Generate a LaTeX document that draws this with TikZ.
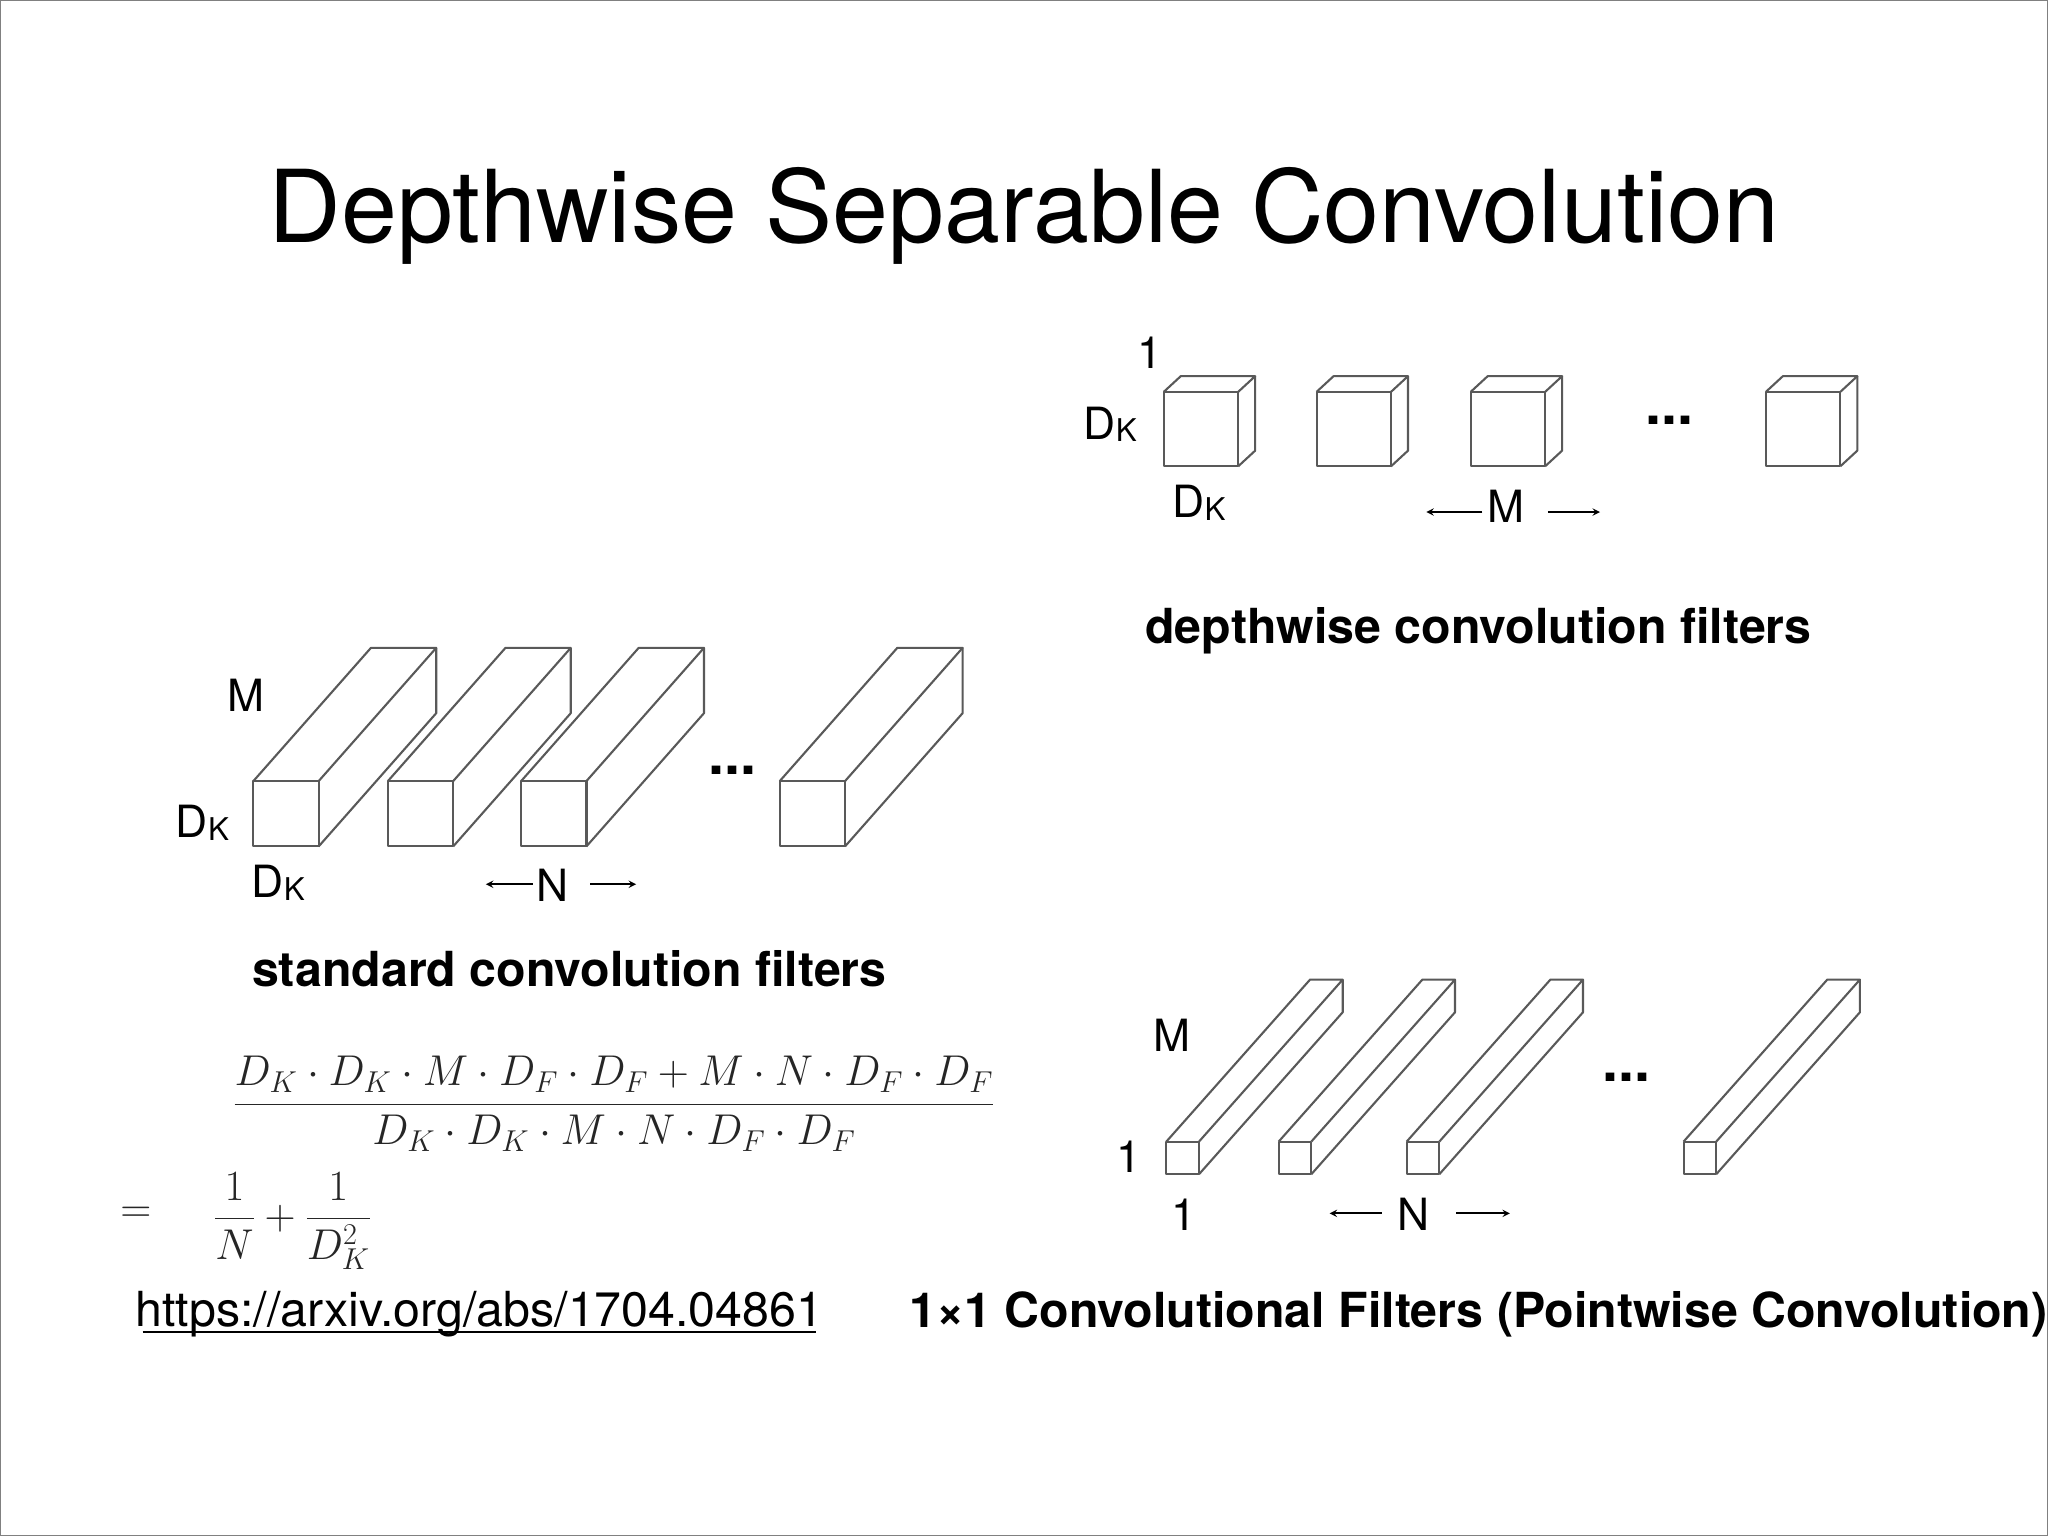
\RequirePackage{fix-cm}
\documentclass[tikz,border=0pt]{standalone}
\usepackage{fontspec}
\usepackage{amsmath}
\setsansfont{TeX Gyre Heros}
\newcommand\prism[5]{%
 \draw[boxln] (#1,-#2) rectangle ({#1+#3},{-#2-#3});
 \draw[boxln] (#1,-#2) -- ({#1+#4},{-#2+#5}) -- ({#1+#3+#4},{-#2+#5}) -- ({#1+#3},-#2);
 \draw[boxln] ({#1+#3+#4},{-#2+#5}) -- ({#1+#3+#4},{-#2-#3+#5}) -- ({#1+#3},{-#2-#3});}
\begin{document}
\begin{tikzpicture}[x=1pt,y=1pt,
 boxln/.style={draw=black!65,line width=1.6pt,line join=round},
 lbl/.style={font=\sffamily\fontsize{34}{36}\selectfont},
 captxt/.style={font=\sffamily\bfseries\fontsize{37}{40}\selectfont},
 arr/.style={-stealth,line width=1.5pt}]
\useasboundingbox (0,0) rectangle (1568,-1176);
\fill[white] (0,0) rectangle (1568,-1176);
\draw[black!50,line width=1pt] (0.5,-0.5) rectangle (1567.5,-1175.5);
\node[font=\sffamily\fontsize{77}{80}\selectfont] (title) at (784,-165) {Depthwise Separable Convolution};
% depthwise
\prism{891}{300}{57}{13}{12}
\prism{1008}{300}{57}{13}{12}
\prism{1126}{300}{57}{13}{12}
\prism{1352}{300}{57}{13}{12}
\node[lbl] (d1) at (880,-270) {1};
\node[lbl] (d2) at (850,-325) {D\raisebox{-2pt}{\fontsize{24}{24}\selectfont K}};
\node[lbl] (d3) at (918,-385) {D\raisebox{-2pt}{\fontsize{24}{24}\selectfont K}};
\node[font=\sffamily\bfseries\fontsize{44}{44}\selectfont] (d4) at (1278,-322) {...};
\node[lbl] (dM) at (1153,-388) {M};
\coordinate (a1) at (1135,-392); \coordinate (a2) at (1092,-392);
\coordinate (a3) at (1185,-392); \coordinate (a4) at (1225,-392);
\draw[arr] (a1) -- (a2); \draw[arr] (a3) -- (a4);
\node[captxt] (dcap) at (1132,-483) {depthwise convolution filters};
% standard
\prism{194}{598}{50}{90}{102}
\prism{297}{598}{50}{90}{102}
\prism{399}{598}{50}{90}{102}
\prism{597}{598}{50}{90}{102}
\node[lbl] (s1) at (188,-532) {M};
\node[lbl] (s2) at (155,-630) {D\raisebox{-2pt}{\fontsize{24}{24}\selectfont K}};
\node[lbl] (s3) at (213,-676) {D\raisebox{-2pt}{\fontsize{24}{24}\selectfont K}};
\node[font=\sffamily\bfseries\fontsize{44}{44}\selectfont] (s4) at (561,-590) {...};
\node[lbl] (sN) at (423,-678) {N};
\coordinate (b1) at (408,-677); \coordinate (b2) at (372,-677);
\coordinate (b3) at (452,-677); \coordinate (b4) at (487,-677);
\draw[arr] (b1) -- (b2); \draw[arr] (b3) -- (b4);
\node[captxt] (scap) at (436,-742) {standard convolution filters};
% pointwise
\prism{893}{874}{25}{110}{124}
\prism{979}{874}{25}{110}{124}
\prism{1077}{874}{25}{110}{124}
\prism{1289}{874}{25}{110}{124}
\node[lbl] (p1) at (897,-793) {M};
\node[lbl] (p2) at (864,-886) {1};
\node[lbl] (p3) at (906,-930) {1};
\node[font=\sffamily\bfseries\fontsize{44}{44}\selectfont] (p4) at (1245,-825) {...};
\node[lbl] (pN) at (1082,-930) {N};
\coordinate (c1) at (1058,-929); \coordinate (c2) at (1018,-929);
\coordinate (c3) at (1115,-929); \coordinate (c4) at (1156,-929);
\draw[arr] (c1) -- (c2); \draw[arr] (c3) -- (c4);
\node[captxt] (pcap) at (1132,-1006) {1×1 Convolutional Filters (Pointwise Convolution)};
% formula
\node[font=\fontsize{33}{38}\selectfont,text=black!85] (f1) at (470,-845)
 {$\dfrac{D_K\cdot D_K\cdot M\cdot D_F\cdot D_F + M\cdot N\cdot D_F\cdot D_F}{D_K\cdot D_K\cdot M\cdot N\cdot D_F\cdot D_F}$};
\node[font=\fontsize{33}{38}\selectfont,text=black!85] (f2) at (104,-930) {$=$};
\node[font=\fontsize{33}{38}\selectfont,text=black!85] (f3) at (224,-935) {$\dfrac{1}{N}+\dfrac{1}{D_K^2}$};
\node[lbl,font=\sffamily\fontsize{37}{40}\selectfont] (url) at (367,-1006) {https://arxiv.org/abs/1704.04861};
\draw[line width=1.5pt] ([yshift=-4pt]url.base west) ++(9,0) -- ([yshift=-4pt,xshift=-9pt]url.base east);
\end{tikzpicture}
\end{document}
